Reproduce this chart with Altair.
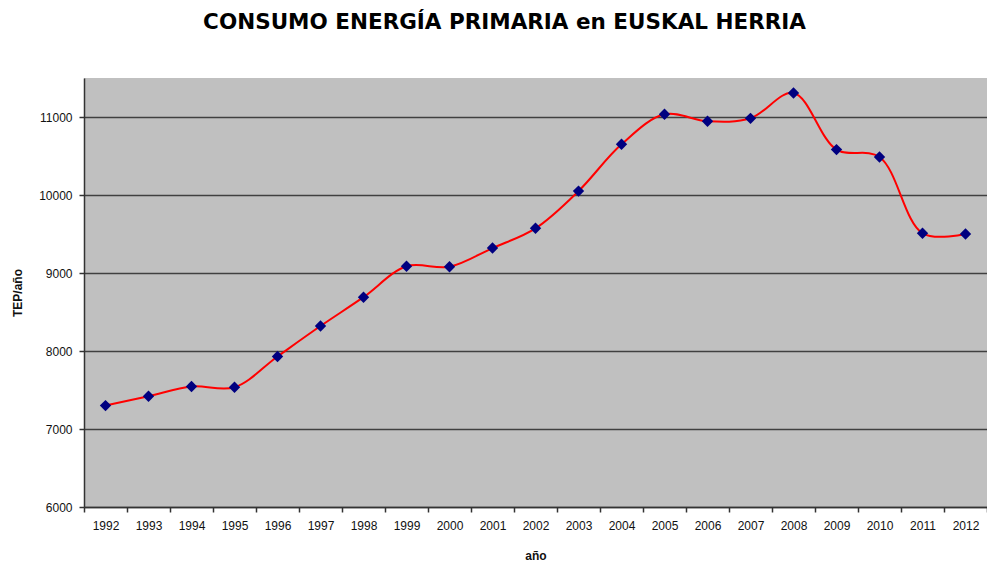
import altair as alt
import pandas as pd

years = ["1992", "1993", "1994", "1995", "1996", "1997", "1998", "1999", "2000", "2001", "2002",
         "2003", "2004", "2005", "2006", "2007", "2008", "2009", "2010", "2011", "2012"]
tep = [7300, 7420, 7545, 7535, 7930, 8320, 8690, 9086, 9080, 9320, 9573,
       10050, 10650, 11035, 10945, 10983, 11308, 10582, 10487, 9509, 9500]

df = pd.DataFrame({"year": years, "tep": tep})

FONT = "Liberation Sans"

base = alt.Chart(df).encode(
    x=alt.X("year:O", title="año",
            scale=alt.Scale(type="band", paddingInner=0, paddingOuter=0),
            axis=alt.Axis(tickBand="extent", labelAngle=0, labelFontSize=12, labelFont=FONT,
                          labelColor="#111111", tickColor="#333333", tickSize=5, tickWidth=1.5,
                          domainColor="#333333", domainWidth=1.5, labelPadding=8,
                          titleFontSize=12, titleFont=FONT, titleFontWeight="bold",
                          titlePadding=19, titleColor="#111111", grid=False)),
    y=alt.Y("tep:Q", title="TEP/año",
            scale=alt.Scale(domain=[6000, 11500], nice=False, zero=False),
            axis=alt.Axis(values=[6000, 7000, 8000, 9000, 10000, 11000], format="d",
                          labelFontSize=12,
                          labelFont=FONT, labelColor="#111111", tickColor="#333333",
                          tickSize=5, tickWidth=1.5, domainColor="#333333", domainWidth=1.5,
                          labelPadding=7, grid=True, gridColor="#404040", gridWidth=1.5,
                          titleFontSize=12, titleFont=FONT, titleFontWeight="bold",
                          titlePadding=14, titleColor="#111111")),
)

line = base.mark_line(color="#FF0000", strokeWidth=2, interpolate="catmull-rom")
points = base.mark_point(shape="diamond", filled=True, size=130, color="#000080", opacity=1)

chart = alt.layer(line, points).properties(
    width=903, height=429,
    padding={"left": 76, "top": 70, "right": 0, "bottom": 54},
    autosize=alt.AutoSizeParams(type="none"),
    title=alt.TitleParams("CONSUMO ENERGÍA PRIMARIA en EUSKAL HERRIA", fontSize=21.5,
                          font="DejaVu Sans", fontWeight="bold", anchor="middle", dx=-31,
                          offset=28, baseline="alphabetic", color="#000000"),
).configure(background="white").configure_view(fill="#C0C0C0", stroke=None)

chart.save("out.html", embed_options={"renderer": "svg", "actions": False})
